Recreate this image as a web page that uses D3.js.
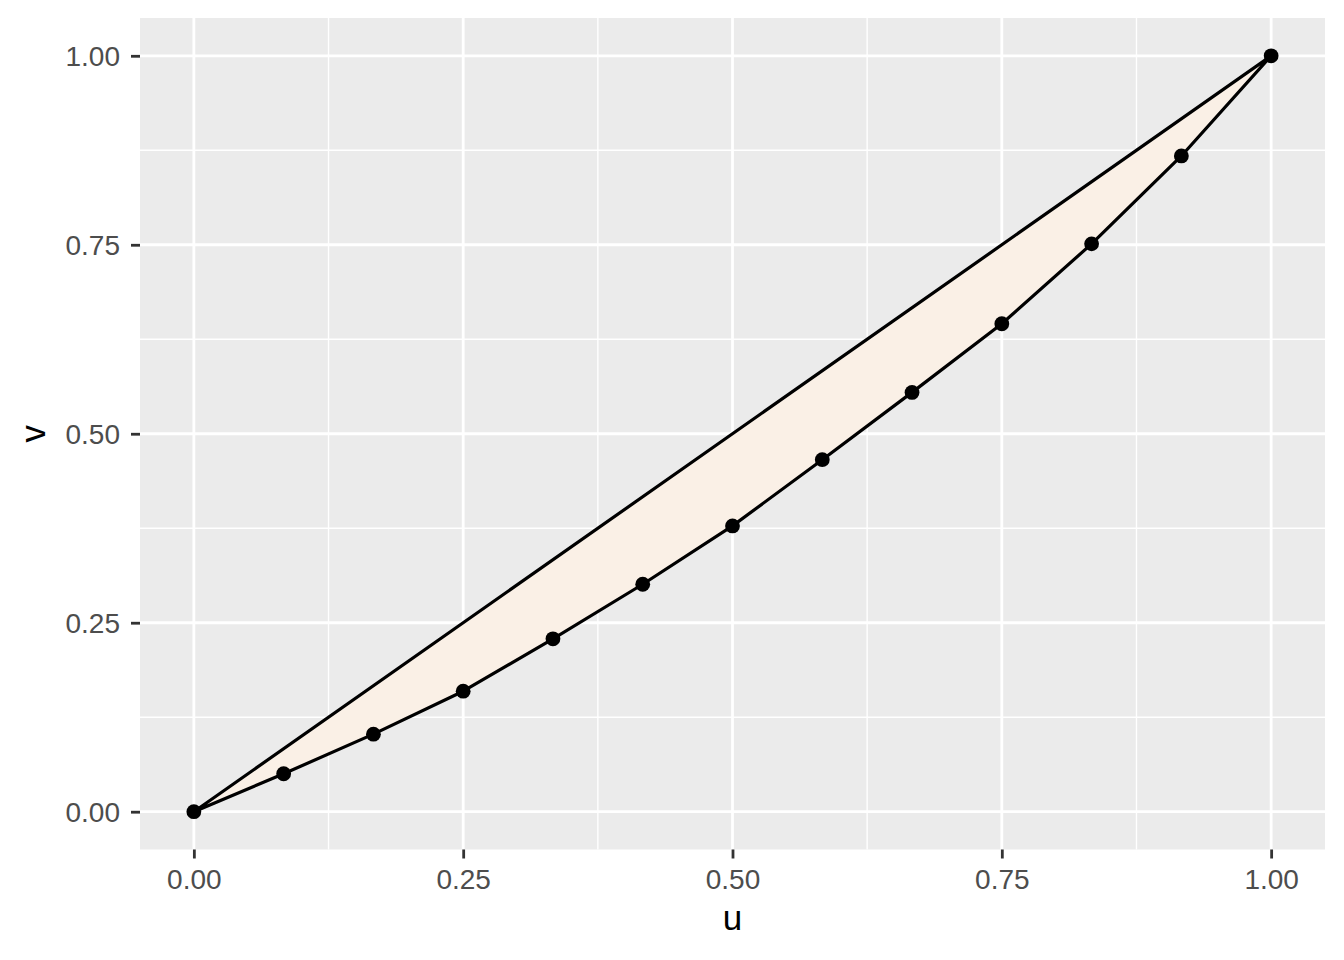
<!DOCTYPE html>
<html>
<head>
<meta charset="utf-8">
<script src="https://cdn.jsdelivr.net/npm/d3@7"></script>
<style>
  html, body { margin: 0; padding: 0; background: #ffffff; }
  svg { display: block; font-family: "Liberation Sans", Arial, sans-serif; }
</style>
</head>
<body>
<svg id="chart" width="1344" height="960"></svg>
<script>
// Data
const uValues = [0, 1/12, 2/12, 3/12, 4/12, 5/12, 6/12, 7/12, 8/12, 9/12, 10/12, 11/12, 1];
const vValues = [0, 0.0502, 0.1026, 0.1594, 0.2287, 0.3009, 0.3781, 0.4657, 0.5547, 0.6455, 0.7512, 0.8675, 1];
const diagonalU = [0, 1];
const diagonalV = [0, 1];
const xTicks = [0, 0.25, 0.5, 0.75, 1];
const yTicks = [0, 0.25, 0.5, 0.75, 1];
const xMinor = [0.125, 0.375, 0.625, 0.875];
const yMinor = [0.125, 0.375, 0.625, 0.875];
const xTitle = "u";
const yTitle = "v";

const svg = d3.select("#chart");
const panel = { left: 140, right: 1325, top: 18, bottom: 849.5 };

const x = d3.scaleLinear().domain([-0.05, 1.05]).range([panel.left, panel.right]);
const y = d3.scaleLinear().domain([-0.05, 1.05]).range([panel.bottom, panel.top]);

// Panel background
svg.append("rect")
  .attr("x", panel.left).attr("y", panel.top)
  .attr("width", panel.right - panel.left).attr("height", panel.bottom - panel.top)
  .attr("fill", "#EBEBEB");

// Minor grid
svg.append("g").selectAll("line").data(xMinor).join("line")
  .attr("x1", d => x(d)).attr("x2", d => x(d))
  .attr("y1", panel.top).attr("y2", panel.bottom)
  .attr("stroke", "#ffffff").attr("stroke-width", 1.4);
svg.append("g").selectAll("line").data(yMinor).join("line")
  .attr("y1", d => y(d)).attr("y2", d => y(d))
  .attr("x1", panel.left).attr("x2", panel.right)
  .attr("stroke", "#ffffff").attr("stroke-width", 1.4);
// Major grid
svg.append("g").selectAll("line").data(xTicks).join("line")
  .attr("x1", d => x(d)).attr("x2", d => x(d))
  .attr("y1", panel.top).attr("y2", panel.bottom)
  .attr("stroke", "#ffffff").attr("stroke-width", 2.8);
svg.append("g").selectAll("line").data(yTicks).join("line")
  .attr("y1", d => y(d)).attr("y2", d => y(d))
  .attr("x1", panel.left).attr("x2", panel.right)
  .attr("stroke", "#ffffff").attr("stroke-width", 2.8);

// Polygon region: curve points then back along diagonal
const polyPts = uValues.map((u, i) => [x(u), y(vValues[i])]);
const diagPts = diagonalU.map((u, i) => [x(u), y(diagonalV[i])]).reverse();
const allPts = polyPts.concat(diagPts);
svg.append("path")
  .attr("d", d3.line()(allPts) + "Z")
  .attr("fill", "#FAF0E6")
  .attr("stroke", "#000000")
  .attr("stroke-width", 3.2)
  .attr("stroke-linejoin", "round");

// Points
svg.append("g").selectAll("circle").data(uValues).join("circle")
  .attr("cx", d => x(d))
  .attr("cy", (d, i) => y(vValues[i]))
  .attr("r", 7.4)
  .attr("fill", "#000000");

// Axes
const fmt = d3.format(".2f");
const xAxis = svg.append("g")
  .attr("transform", `translate(0,${panel.bottom})`)
  .call(d3.axisBottom(x).tickValues(xTicks).tickFormat(fmt).tickSize(9).tickPadding(6));
const yAxis = svg.append("g")
  .attr("transform", `translate(${panel.left},0)`)
  .call(d3.axisLeft(y).tickValues(yTicks).tickFormat(fmt).tickSize(9).tickPadding(6));

[xAxis, yAxis].forEach(a => {
  a.select(".domain").remove();
  a.selectAll(".tick line").attr("stroke", "#333333").attr("stroke-width", 2.8);
  a.selectAll(".tick text")
    .attr("fill", "#4D4D4D")
    .style("font-size", "28px")
    .style("font-family", "'Liberation Sans', Arial, sans-serif");
});
xAxis.selectAll(".tick text").attr("dy", null).attr("y", 39);
yAxis.selectAll(".tick text").attr("dy", "0.36em").attr("x", -20);

// Axis titles
svg.append("text")
  .attr("x", (panel.left + panel.right) / 2)
  .attr("y", 930)
  .attr("text-anchor", "middle")
  .attr("fill", "#000000")
  .style("font-size", "35px")
  .text(xTitle);
svg.append("text")
  .attr("transform", `translate(45,${(panel.top + panel.bottom) / 2}) rotate(-90)`)
  .attr("text-anchor", "middle")
  .attr("fill", "#000000")
  .style("font-size", "35px")
  .text(yTitle);
</script>
</body>
</html>
